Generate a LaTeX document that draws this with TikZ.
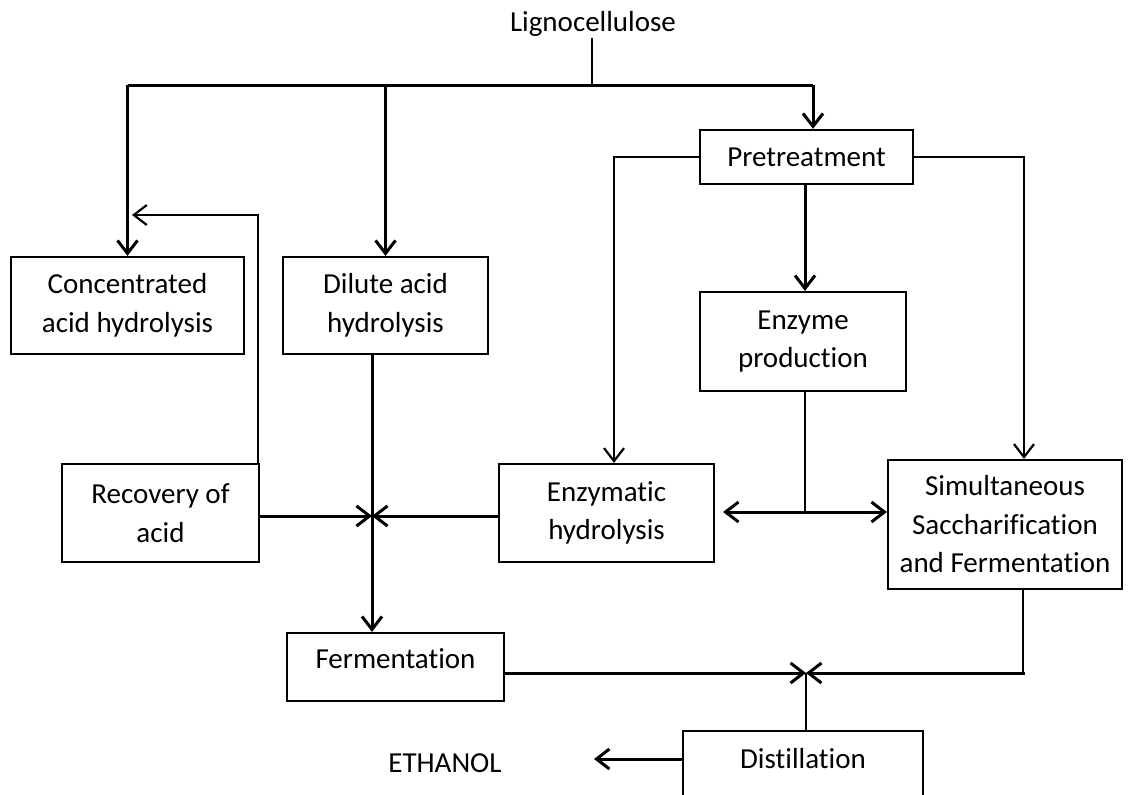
\documentclass[tikz,border=0pt]{standalone}
\usepackage{fontspec}
\setmainfont{Carlito}[Ligatures=NoCommon]
\usepackage{tikz}
\usetikzlibrary{arrows.meta}
\tikzset{
    %Define standard arrow tip
    >={Straight Barb[length=13pt,width=20pt]},
    %Define style for boxes
    boks/.style={
           rectangle,
           draw=black, line width=2.2pt,
           inner sep=0pt,
           align=center,
           font=\fontsize{29}{38.5}\selectfont},
    %Define style for plain text
    tekst/.style={
           inner sep=1pt,
           font=\fontsize{29}{38.5}\selectfont},
    % Define line styles
    pil/.style={line width=3pt},
    linje/.style={line width=2.2pt}
}

\begin{document}
\begin{tikzpicture}[x=1pt,y=-1pt]
\useasboundingbox (0,0) rectangle (1130,795);
\clip (0,0) rectangle (1130,795);
\node[tekst](1) at (593,24){Lignocellulose};
\node[boks,minimum width=213pt,minimum height=54pt](2) at (806.5,157){Pretreatment};
\node[boks,minimum width=233pt,minimum height=97pt](3) at (127.5,305.5){Concentrated\\acid hydrolysis};
\node[boks,minimum width=205pt,minimum height=97pt](4) at (385.5,305.5){Dilute acid\\hydrolysis};
\node[boks,minimum width=206pt,minimum height=99pt](5) at (803,341.5){Enzyme\\production};
\node[boks,minimum width=197pt,minimum height=98pt](6) at (160.5,513){Recovery of\\acid};
\node[boks,minimum width=215pt,minimum height=98pt](7) at (606.5,513){Enzymatic\\hydrolysis};
\node[boks,minimum width=234pt,minimum height=129pt](8) at (1005,524.5){Simultaneous\\Saccharification\\and Fermentation};
\node[boks,minimum width=217pt,minimum height=68pt,text depth=16pt](9) at (395.5,667){Fermentation};
\node[boks,minimum width=240pt,minimum height=100pt,text depth=46pt](10) at (803,781){Distillation};
\node[tekst](11) at (445,763){ETHANOL};
% junctions
\coordinate (s) at (592,85);
\coordinate (m) at (805,512);
\coordinate (j1) at (372,516);
\coordinate (j2) at (806,673);
\coordinate (k) at (1023,673);
\coordinate (r) at (132,215);
\coordinate (e) at (594,759);
% lignocellulose split
\draw[linje](1.south -| s) -- (s);
\draw[pil](3.north |- s) -- ([xshift=6.5pt]2.north |- s);
\draw[pil,->](3.north |- s) -- (3.north);
\draw[pil,->](4.north |- s) -- (4.north);
\draw[pil,->]([xshift=6.5pt]2.north |- s) -- ([xshift=6.5pt]2.north);
% pretreatment
\draw[linje,->](2.west) -| ([xshift=7.5pt]7.north);
\draw[linje,->](2.east) -| ([xshift=19pt]8.north);
\draw[pil,->](2.south -| m) -- (5.north -| m);
\draw[linje](5.south -| m) -- (m);
\draw[pil,<->]([xshift=8pt]7.east |- m) -- (8.west |- m);
% acid route
\draw[pil,->](4.south -| j1) -- (9.north -| j1);
\draw[pil,->](6.east |- j1) -- (j1);
\draw[pil,->](7.west |- j1) -- (j1);
\draw[linje,->]([xshift=-2pt]6.north east) |- (r);
% to distillation
\draw[pil,->](9.east |- j2) -- (j2);
\draw[linje,line cap=rect](8.south -| k) -- (k);
\draw[pil,line cap=rect,->](k) -- (j2);
\draw[linje](10.north -| j2) -- (j2);
\draw[pil,->](10.west |- e) -- (e);
\end{tikzpicture}
\end{document}
